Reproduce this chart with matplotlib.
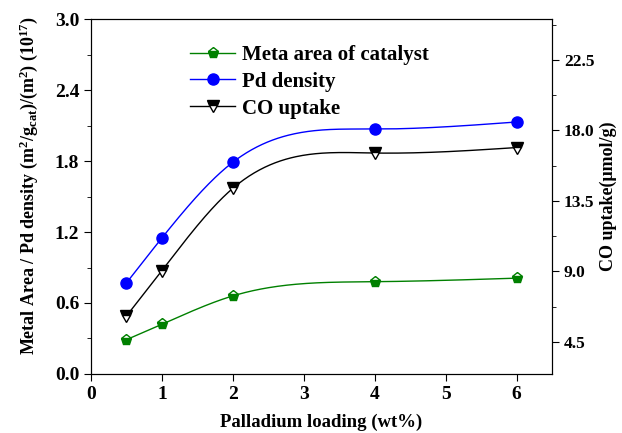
import numpy as np
import matplotlib
matplotlib.use("Agg")
import matplotlib.pyplot as plt

plt.rcParams['font.family'] = ['Liberation Serif', 'DejaVu Serif']
plt.rcParams['font.weight'] = 'bold'
plt.rcParams['mathtext.default'] = 'regular'

## data
loading = [0.5, 1, 2, 4, 6]
metal_area = [0.29, 0.42, 0.66, 0.78, 0.81]
pd_density = [0.77, 1.15, 1.79, 2.07, 2.13]
co_uptake = [6.15, 9.05, 14.3, 16.55, 16.9]


def spline(x, y, xs):
    # natural cubic spline for the smooth connecting line
    x = np.asarray(x, float)
    y = np.asarray(y, float)
    n = len(x)
    h = np.diff(x)
    A = np.zeros((n, n))
    r = np.zeros(n)
    A[0, 0] = A[-1, -1] = 1
    for i in range(1, n - 1):
        A[i, i - 1] = h[i - 1]
        A[i, i] = 2 * (h[i - 1] + h[i])
        A[i, i + 1] = h[i]
        r[i] = 6 * ((y[i + 1] - y[i]) / h[i] - (y[i] - y[i - 1]) / h[i - 1])
    M = np.linalg.solve(A, r)
    idx = np.clip(np.searchsorted(x, xs) - 1, 0, n - 2)
    a = x[idx + 1] - xs
    b = xs - x[idx]
    hi = h[idx]
    return (M[idx] * a**3 / (6 * hi) + M[idx + 1] * b**3 / (6 * hi)
            + (y[idx] / hi - M[idx] * hi / 6) * a
            + (y[idx + 1] / hi - M[idx + 1] * hi / 6) * b)


xs = np.linspace(loading[0], loading[-1], 300)

fig = plt.figure(figsize=(6.22, 4.33), dpi=100)
ax = fig.add_axes([0.1463, 0.1363, 0.7412, 0.8197])
ax2 = ax.twinx()

ax.plot(xs, spline(loading, metal_area, xs), color='green', lw=1)
ax.plot(xs, spline(loading, pd_density, xs), color='blue', lw=1)
ax2.plot(xs, spline(loading, co_uptake, xs), color='black', lw=1)

green_m = dict(marker='p', ms=8, mfc='green', mfcalt='white',
               fillstyle='bottom', mec='green')
blue_m = dict(marker='o', ms=8, mfc='blue', mec='blue')
black_m = dict(marker='v', ms=9, mfc='black', mfcalt='white',
               fillstyle='top', mec='black')

ax.plot(loading, metal_area, ls='none', **green_m)
ax.plot(loading, pd_density, ls='none', **blue_m)
ax2.plot(loading, co_uptake, ls='none', **black_m)

# legend handles with lines
l1, = ax.plot([], [], color='green', lw=1, **green_m)
l2, = ax.plot([], [], color='blue', lw=1, **blue_m)
l3, = ax.plot([], [], color='black', lw=1, **black_m)
ax.legend([l1, l2, l3], ['Meta area of catalyst', 'Pd density', 'CO uptake'],
          loc='upper left', bbox_to_anchor=(0.174, 0.98), frameon=False,
          prop={'weight': 'bold', 'size': 15}, handlelength=2.18,
          labelspacing=0.33, handletextpad=0.3)

ax.set_xlim(0, 6.5)
ax.set_ylim(0, 3.0)
ax2.set_ylim(2.45, 25.1)
ax.set_xticks(range(0, 7))
ax.set_yticks(np.arange(0, 3.01, 0.6))
ax.set_yticks(np.arange(0.3, 3.0, 0.6), minor=True)
ax2.set_yticks([4.5, 9.0, 13.5, 18.0, 22.5])
ax2.set_yticks([6.75, 11.25, 15.75, 20.25, 24.75], minor=True)
ax.set_yticklabels(['%.1f' % v for v in np.arange(0, 3.01, 0.6)])
ax2.set_yticklabels(['4.5', '9.0', '13.5', '18.0', '22.5'])

ax.tick_params(axis='both', which='major', direction='out', length=5,
               labelsize=14)
ax.tick_params(axis='y', which='minor', direction='out', length=3)
ax2.tick_params(axis='y', which='major', direction='out', length=5,
                labelsize=12.5)
ax2.tick_params(axis='y', which='minor', direction='out', length=3)

ax.set_xlabel('Palladium loading (wt%)', fontsize=13.5, fontweight='bold',
              labelpad=8)
ax.set_ylabel('Metal Area / Pd density (m$^2$/g$_{cat}$)/(m$^2$) (10$^{17}$)',
              fontsize=13, fontweight='bold')
ax.yaxis.set_label_coords(-0.11, 0.53)
ax2.set_ylabel('CO uptake(\u03bcmol/g)', fontsize=13, fontweight='bold')

plt.savefig('out.png', dpi=100)
